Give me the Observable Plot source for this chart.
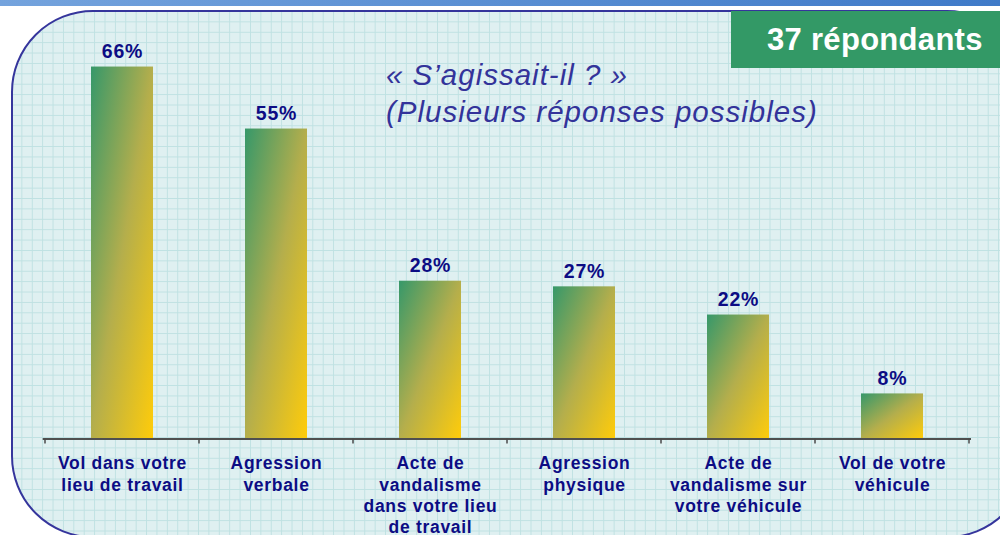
<!DOCTYPE html>
<html>
<head>
<meta charset="utf-8">
<script src="https://cdn.jsdelivr.net/npm/d3@7"></script>
<script src="https://cdn.jsdelivr.net/npm/@observablehq/plot@0.6"></script>
<style>
  html, body { margin: 0; padding: 0; width: 1000px; height: 535px; overflow: hidden; background: #ffffff; font-family: "Liberation Sans", Arial, sans-serif; }
  #topband { position: absolute; left: 0; top: 0; width: 1000px; height: 6px; background: linear-gradient(to right, #74a3dd, #3f7ac8); }
  #panel { position: absolute; left: 11px; top: 10px; width: 1018px; height: 528px; box-sizing: border-box;
    border: 2.5px solid #35359c; border-radius: 82px;
    background-color: #dff0f1;
    background-image:
      linear-gradient(to right, #bfe1e2 1.2px, transparent 1.2px),
      linear-gradient(to bottom, #bfe1e2 1.2px, transparent 1.2px);
    background-size: 10.4px 10.4px; background-position: -2px -1px; }
  #badge { position: absolute; left: 731px; top: 11px; width: 269px; height: 57px; background: #339966; }
  #badge span { position: absolute; left: 36px; top: 11px; color: #ffffff; font: bold 31px "Liberation Sans", Arial, sans-serif; letter-spacing: 0.3px; white-space: nowrap; }
  #title { position: absolute; left: 386px; top: 56px; color: #33339a; font: italic 29.5px "Liberation Sans", Arial, sans-serif; letter-spacing: 1px; line-height: 37px; white-space: nowrap; }
  #chart { position: absolute; left: 0; top: 0; }
  #chart svg { background: transparent; overflow: visible; }
</style>
</head>
<body>
<div id="topband"></div>
<div id="panel"></div>
<div id="chart"></div>
<div id="title">« S’agissait-il ? »<br>(Plusieurs réponses possibles)</div>
<div id="badge"><span>37 répondants</span></div>
<script>
// Data
const categories = [
  "Vol dans votre\nlieu de travail",
  "Agression\nverbale",
  "Acte de\nvandalisme\ndans votre lieu\nde travail",
  "Agression\nphysique",
  "Acte de\nvandalisme sur\nvotre véhicule",
  "Vol de votre\nvéhicule"
];
const values = [66, 55, 28, 27, 22, 8];

const data = categories.map((c, i) => ({cat: c, value: values[i]}));

const navy = "#0c0c84";

const boundaryTicks = (index, scales, vals, dimensions) => {
  const x = scales.x, y = scales.y;
  const step = x.step(), bw = x.bandwidth();
  const dom = x.domain();
  const pad = (step - bw) / 2;
  const bounds = dom.map(d => x(d) - pad).concat([x(dom[dom.length - 1]) + bw + pad]);
  const g = d3.create("svg:g");
  g.selectAll("line").data(bounds).join("line")
    .attr("x1", d => d).attr("x2", d => d)
    .attr("y1", y(0)).attr("y2", y(0) + 5)
    .attr("stroke", "#4a4a4a").attr("stroke-width", 1.5);
  return g.node();
};

const chart = Plot.plot({
  width: 1000,
  height: 535,
  marginLeft: 42.7,
  marginRight: 29,
  marginTop: 44,
  marginBottom: 96.5,
  x: {domain: categories, paddingInner: 0.6, paddingOuter: 0.3, axis: null},
  y: {domain: [0, 70], axis: null},
  style: {background: "transparent", overflow: "visible"},
  marks: [
    Plot.barY(data, {x: "cat", y: "value", fill: "url(#barGrad)"}),
    Plot.ruleY([0], {stroke: "#4f4f4f", strokeWidth: 2}),
    boundaryTicks,
    Plot.text(data, {x: "cat", y: "value", text: d => d.value + "%", dy: -9, lineAnchor: "bottom",
      fill: navy, fontSize: 19.5, fontWeight: "bold", fontFamily: "Liberation Sans, Arial, sans-serif"}),
    Plot.text(data, {x: "cat", y: () => 0, text: "cat", dy: 15, lineAnchor: "top", lineHeight: 1.22,
      fill: navy, fontSize: 17.5, fontWeight: "bold", fontFamily: "Liberation Sans, Arial, sans-serif"})
  ]
});

// gradient definition for the bars
const defs = d3.create("svg:defs");
const grad = defs.append("linearGradient").attr("id", "barGrad")
  .attr("x1", 0).attr("y1", 0).attr("x2", 1).attr("y2", 1);
grad.append("stop").attr("offset", "0%").attr("stop-color", "#36986a");
grad.append("stop").attr("offset", "50%").attr("stop-color", "#b4ae4c");
grad.append("stop").attr("offset", "100%").attr("stop-color", "#ffcc0a");
chart.insertBefore(defs.node(), chart.firstChild);

const textGroups = chart.querySelectorAll('g[aria-label="text"]');
if (textGroups[0]) textGroups[0].style.letterSpacing = "0.8px";
if (textGroups[1]) textGroups[1].style.letterSpacing = "0.7px";

document.getElementById("chart").appendChild(chart);
</script>
</body>
</html>
